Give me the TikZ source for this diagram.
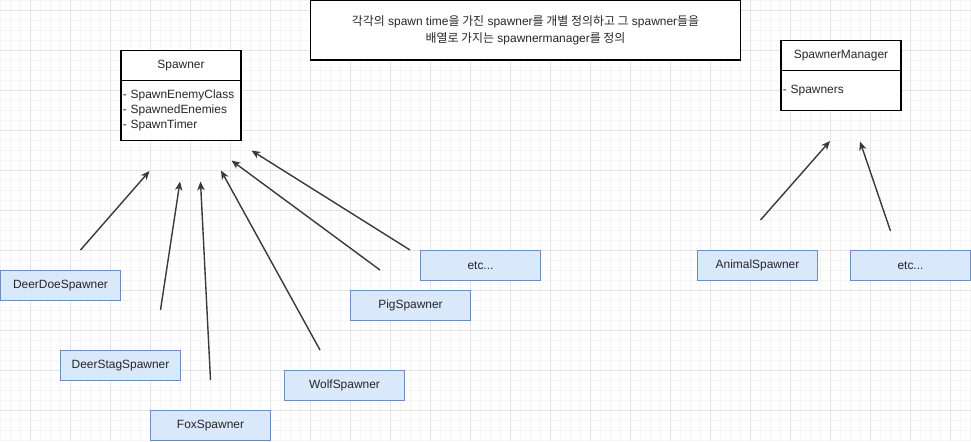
\documentclass[tikz,border=0pt]{standalone}
\usepackage{fontspec}
\setmainfont{Liberation Sans}
\newfontfamily\kofont{Noto Sans CJK KR}
\usepackage{tikz}
\usetikzlibrary{arrows.meta}
\definecolor{gridmin}{HTML}{F5F5F5}
\definecolor{gridmaj}{HTML}{E3E3E3}
\definecolor{subfill}{HTML}{DAE8FC}
\definecolor{subline}{HTML}{6C8EBF}
\definecolor{ink}{HTML}{262626}
\definecolor{arr}{HTML}{3A3A3A}
\newcommand{\ko}[1]{{\kofont #1}}
\tikzset{
  gmin/.style={draw=gridmin, line width=0.5pt},
  gmaj/.style={draw=gridmaj, line width=0.5pt},
  note/.style={draw=black, fill=white, line width=0.6pt, minimum width=8.6cm, minimum height=1.2cm,
    inner sep=0pt, outer sep=0pt, align=center, text=ink, font=\fontsize{6.8}{9.6}\selectfont},
  clshead/.style={draw=black, fill=white, line width=0.6pt, minimum width=2.4cm, minimum height=0.6cm,
    inner sep=0pt, outer sep=0pt, text=ink, font=\fontsize{6.8}{8.2}\selectfont, anchor=north west},
  clsbody/.style={draw=black, fill=white, line width=0.6pt, text width=2.4cm-2pt, inner xsep=1pt,
    inner ysep=0pt, outer sep=0pt, align=left, text=ink, font=\fontsize{6.8}{8.5}\selectfont, anchor=north west},
  sub/.style={draw=subline, fill=subfill, line width=0.6pt, minimum width=2.4cm, minimum height=0.6cm,
    inner sep=0pt, outer sep=0pt, text=ink, font=\fontsize{6.8}{8.2}\selectfont},
  inh/.style={draw=arr, line width=0.8pt, -{Stealth[length=5pt,width=4.2pt,inset=1.4pt]}},
}
\begin{document}
\begin{tikzpicture}[x=0.02cm,y=-0.02cm]
  \useasboundingbox (0,0) rectangle (971,441);

  % grid
  \foreach \g in {0,10,...,970} \draw[gmin] (\g,0) -- (\g,441);
  \foreach \g in {0,10,...,440} \draw[gmin] (0,\g) -- (971,\g);
  \foreach \g in {30,70,...,950} \draw[gmaj] (\g,0) -- (\g,441);
  \foreach \g in {10,50,...,410} \draw[gmaj] (0,\g) -- (971,\g);

  % note
  \node[note] (note) at (525.5,30)
    {\ko{각각의} spawn time\ko{을 가진} spawner\ko{를 개별 정의하고 그} spawner\ko{들을}\\
     \ko{배열로 가지는} spawnermanager\ko{를 정의}};

  % classes
  \node[clshead] (spawner) at (121,50.5) {Spawner};
  \node[clsbody, minimum height=1.2cm] (spawner-attrs) at (spawner.south west)
    {- SpawnEnemyClass\\- SpawnedEnemies\\- SpawnTimer};
  \node[clshead] (manager) at (781,40.5) {SpawnerManager};
  \node[clsbody, minimum height=0.8cm] (manager-attrs) at (manager.south west) {- Spawners};

  % subclasses
  \node[sub] (doe)    at (60.5,285.5)  {DeerDoeSpawner};
  \node[sub] (stag)   at (120.5,365.5) {DeerStagSpawner};
  \node[sub] (fox)    at (210.5,425.5) {FoxSpawner};
  \node[sub] (wolf)   at (344.5,385.5) {WolfSpawner};
  \node[sub] (pig)    at (410.5,305.5) {PigSpawner};
  \node[sub] (etc-a)  at (480.5,265.5) {etc...};
  \node[sub] (animal) at (757.5,265.5) {AnimalSpawner};
  \node[sub] (etc-b)  at (910.5,265.5) {etc...};

  % arrow ends
  \coordinate (doe-t)    at (80.5,250);   \coordinate (doe-h)    at (149.5,171);
  \coordinate (stag-t)   at (160.5,310);  \coordinate (stag-h)   at (180,181.5);
  \coordinate (fox-t)    at (210.5,380);  \coordinate (fox-h)    at (200.5,181.5);
  \coordinate (wolf-t)   at (320,350);    \coordinate (wolf-h)   at (221,170.5);
  \coordinate (pig-t)    at (380,270);    \coordinate (pig-h)    at (231.5,160.5);
  \coordinate (etc-a-t)  at (410,250);    \coordinate (etc-a-h)  at (251.5,150.5);
  \coordinate (animal-t) at (760.5,220);  \coordinate (animal-h) at (830,141);
  \coordinate (etc-b-t)  at (890.5,231);  \coordinate (etc-b-h)  at (860,141.5);

  \foreach \s in {doe,stag,fox,wolf,pig,etc-a,animal,etc-b}
    \draw[inh] (\s-t) -- (\s-h);
\end{tikzpicture}
\end{document}
